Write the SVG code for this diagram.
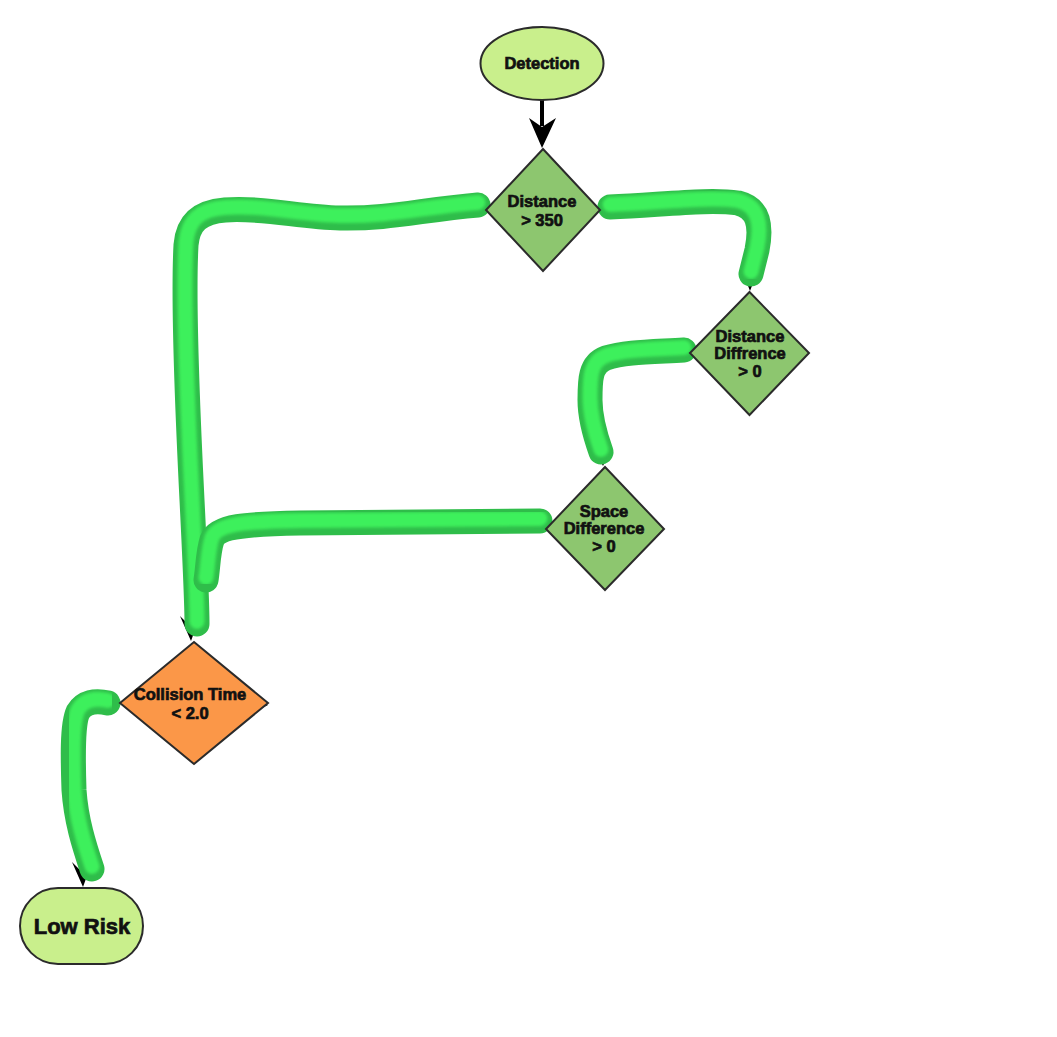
<svg xmlns="http://www.w3.org/2000/svg" width="1057" height="1037" viewBox="0 0 1057 1037">
  <style>
    .lbl { font-family: "Liberation Sans", Arial, sans-serif; font-weight: bold; font-size: 16.5px; fill: #111; stroke: #111; stroke-width: 0.7; text-anchor: middle; }
    .big { font-size: 22px; }
    .node { stroke: #2b2b2b; stroke-width: 2; }
    .lime { fill: #c9ef8c; }
    .leaf { fill: #8dc66f; }
    .orange { fill: #fb9748; }
    .tube-base { fill: none; stroke: #2fbd4a; stroke-width: 25; stroke-linecap: round; stroke-linejoin: round; }
    .tube-hi { fill: none; stroke: #3cf05c; stroke-width: 15; stroke-linecap: round; stroke-linejoin: round; filter: url(#soft); }
    .tip { fill: #000; }
  </style>
  <defs>
    <filter id="soft" x="-10%" y="-10%" width="120%" height="120%">
      <feGaussianBlur stdDeviation="1.5"/>
    </filter>
    <path id="c1" d="M478,205 C 420,210 390,219 340,218 C 300,217 260,207 225,210 C 200,212 188,222 186,245 C 183,300 188,420 192,500 C 195,560 197,600 197,624"/>
    <path id="c2" d="M610,207 C 670,204 710,199 738,203 C 758,208 762,225 757,250 L 751,274"/>
    <path id="c3" d="M684,350 C 650,352 625,352 606,358 C 590,364 590,380 590,400 C 590,420 596,438 601,452"/>
    <path id="c4" d="M540,521 L 300,523 C 245,524 218,526 212,540 C 208,552 208,568 206,580"/>
    <path id="c5" d="M108,703 C 95,700 84,702 78,712 C 72,725 73,760 74,790 C 76,820 84,845 92,869"/>
  </defs>

  <!-- arrowheads partly covered by the connector tubes -->
  <g id="connectors">
    <line x1="542" y1="100" x2="542" y2="126" stroke="#000" stroke-width="4"/>
    <polygon class="tip" points="529,118 542,127 556,118 542,148"/>
    <polygon class="tip" points="180,616 190,626 200,616 191,641"/>
    <polygon class="tip" points="72,862 82,872 92,862 83,887"/>
    <polygon class="tip" points="594,448 602,455 611,448 603,466"/>
    <polygon class="tip" points="742,270 750,276 758,270 750,291"/>
    <polygon class="tip" points="258,700 268,705 258,710"/>

    <use href="#c1" class="tube-base"/>
    <use href="#c1" class="tube-hi" transform="translate(0,-2.5)"/>
    <use href="#c2" class="tube-base"/>
    <use href="#c2" class="tube-hi" transform="translate(0,-2.5)"/>
    <use href="#c3" class="tube-base"/>
    <use href="#c3" class="tube-hi" transform="translate(0,-2.5)"/>
    <use href="#c4" class="tube-base"/>
    <use href="#c4" class="tube-hi" transform="translate(0,-2.5)"/>
    <use href="#c5" class="tube-base"/>
    <use href="#c5" class="tube-hi" transform="translate(0,-2.5)"/>
  </g>

  <g id="detection">
    <ellipse class="node lime" cx="542" cy="63.5" rx="61.5" ry="36.5"/>
    <text class="lbl" x="542" y="69">Detection</text>
  </g>

  <g id="distance">
    <polygon class="node leaf" points="543,149 600,210 543,271 486,210"/>
    <text class="lbl" x="542" y="207">Distance</text>
    <text class="lbl" x="542" y="226">&gt; 350</text>
  </g>

  <g id="distance-diff">
    <polygon class="node leaf" points="749.5,292 809,353 749.5,415 690,353"/>
    <text class="lbl" x="750" y="342">Distance</text>
    <text class="lbl" x="750" y="359">Diffrence</text>
    <text class="lbl" x="750" y="377">&gt; 0</text>
  </g>

  <g id="space-diff">
    <polygon class="node leaf" points="605,467 664,529 605,590 546,529"/>
    <text class="lbl" x="604" y="517">Space</text>
    <text class="lbl" x="604" y="534">Difference</text>
    <text class="lbl" x="604" y="552">&gt; 0</text>
  </g>

  <g id="collision-time">
    <polygon class="node orange" points="194,642 268,703 194,764 120,703"/>
    <text class="lbl" x="190" y="700">Collision Time</text>
    <text class="lbl" x="190" y="719">&lt; 2.0</text>
  </g>

  <g id="low-risk">
    <rect class="node lime" x="20" y="888" width="123" height="76" rx="38" ry="38"/>
    <text class="lbl big" x="82" y="934">Low Risk</text>
  </g>
</svg>
